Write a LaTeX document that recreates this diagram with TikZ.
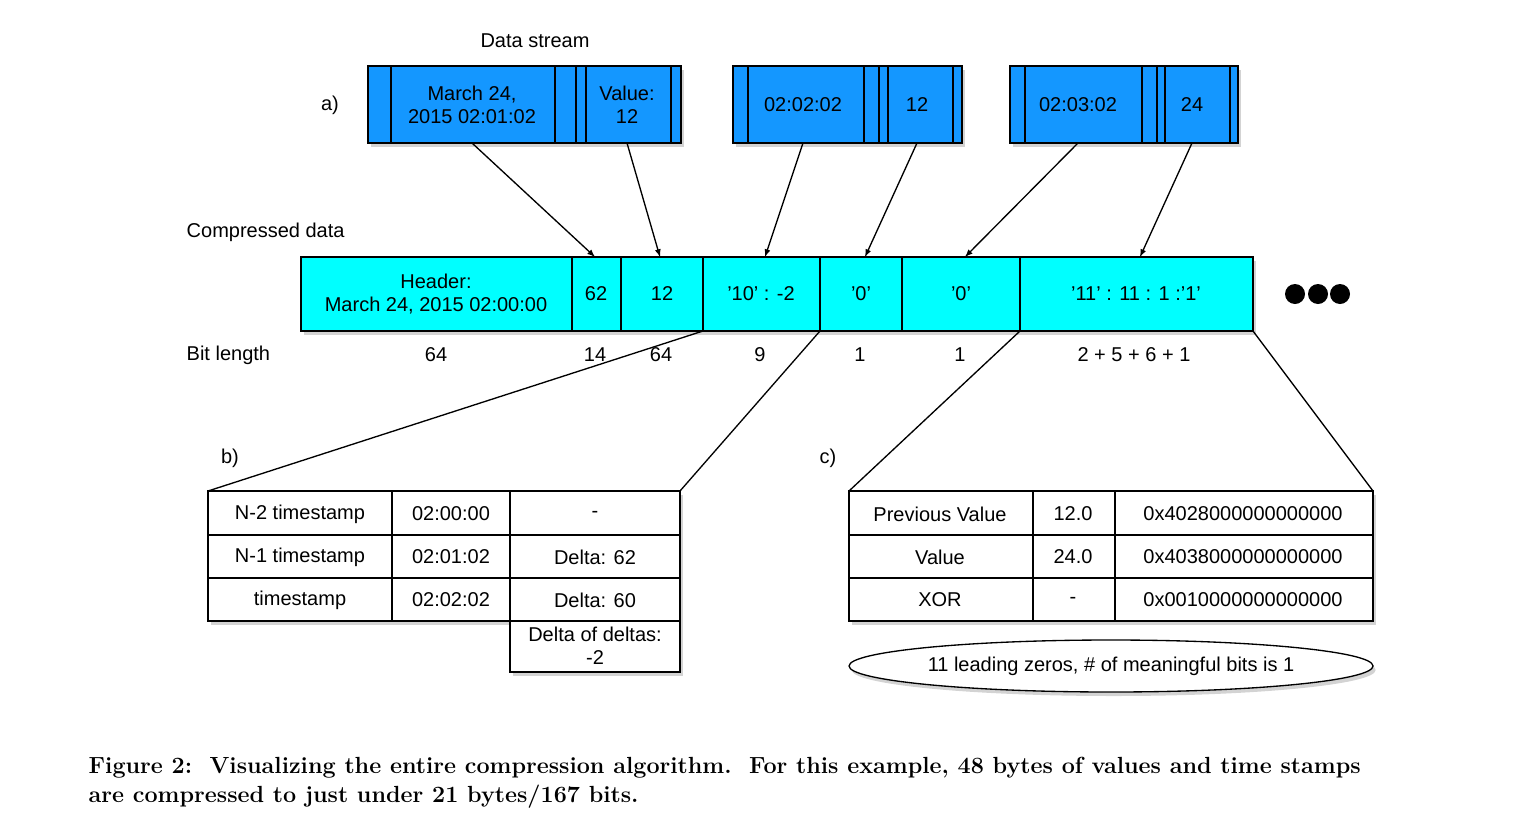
\documentclass[tikz,border=0pt]{standalone}
\usepackage{fontspec}
\setsansfont{Liberation Sans}
\usetikzlibrary{shadows,shapes.geometric}
\definecolor{blu}{HTML}{1497FF}
\definecolor{cy}{HTML}{00FFFF}
\begin{document}
\begin{tikzpicture}[x=0.75pt,y=-0.75pt,
  txt/.style={font=\sffamily\fontsize{15}{17}\selectfont,align=center},
  box/.style={draw,line width=1pt,drop shadow={opacity=0.35,shadow xshift=2pt,shadow yshift=-3pt}},
  arr/.style={-latex,line width=1pt},
  ln/.style={line width=1pt}]
\useasboundingbox (0,0) rectangle (1538,818);
% top boxes
\foreach \a/\b/\n in {368/681/A,733/962/B,1010/1238/C}{
  \path[box,fill=blu] (\a,66) rectangle (\b,143);}
\foreach \x in {391,555,576,586,671,748,864,879,888,953,1025,1142,1157,1165,1230}{
  \draw[line width=1pt] (\x,66) -- (\x,143);}
\node[txt] (t1) at (472,105) {March 24,\\2015 02:01:02};
\node[txt] (v1) at (627,105) {Value:\\12};
\node[txt] (t2) at (803,105) {02:02:02};
\node[txt] (v2) at (917,105) {12};
\node[txt] (t3) at (1078,105) {02:03:02};
\node[txt] (v3) at (1192,105) {24};
\coordinate (t1b) at (472,143); \coordinate (v1b) at (627,143);
\coordinate (t2b) at (803,143); \coordinate (v2b) at (917,143);
\coordinate (t3b) at (1078,143); \coordinate (v3b) at (1192,143);
\node[txt] (a) at (330,105) {a)};
\node[txt] (ds) at (535,41) {Data stream};
\node[txt,anchor=west] (cd) at (182,232) {Compressed data};
\node[txt,anchor=west] (bl) at (182,355) {Bit length};
% compressed row
\path[box,fill=cy] (301,257) rectangle (1253,331);
\foreach \x in {572,621,703,820,902,1020}{\draw[line width=1pt] (\x,257) -- (\x,331);}
\node[txt] (c1) at (436,294) {Header:\\March 24, 2015 02:00:00};
\node[txt] (c2) at (596,294) {62};
\node[txt] (c3) at (662,294) {12};
\node[txt] (c4) at (761,294) {'10' : -2};
\node[txt] (c5) at (861,294) {'0'};
\node[txt] (c6) at (961,294) {'0'};
\node[txt] (c7) at (1136,294) {'11' : 11 : 1 :'1'};
\foreach \x/\t in {436/64,595/14,661/64,760/9,860/1,960/1,1134/{2 + 5 + 6 + 1}}{
  \node[txt] at (\x,355) {\t};}
\foreach \x in {1295,1318,1340}{\fill (\x,294) circle (10);}
\coordinate (c2t) at (595,257); \coordinate (c3t) at (660,257);
\coordinate (c4t) at (765,257); \coordinate (c5t) at (865,257);
\coordinate (c6t) at (965,257); \coordinate (c7t) at (1140,257);
\draw[arr] (t1b) -- (c2t); \draw[arr] (v1b) -- (c3t);
\draw[arr] (t2b) -- (c4t); \draw[arr] (v2b) -- (c5t);
\draw[arr] (t3b) -- (c6t); \draw[arr] (v3b) -- (c7t);
% table b
\path[box,fill=white] (208,491) rectangle (680,621);
\path[box,fill=white] (510,621) rectangle (680,672);
\draw[ln] (208,491) rectangle (680,621);
\foreach \y in {535,578}{\draw[ln] (208,\y) -- (680,\y);}
\foreach \x in {392,510}{\draw[ln] (\x,491) -- (\x,621);}
\node[txt] at (300,514) {N-2 timestamp};
\node[txt] at (451,514) {02:00:00};
\node[txt] at (595,514) {-};
\node[txt] at (300,557) {N-1 timestamp};
\node[txt] at (451,557) {02:01:02};
\node[txt] at (595,557) {Delta: 62};
\node[txt] at (300,600) {timestamp};
\node[txt] at (451,600) {02:02:02};
\node[txt] at (595,600) {Delta: 60};
\node[txt] at (595,646) {Delta of deltas:\\-2};
\node[txt] at (230,458) {b)};
\draw[ln] (703,331) -- (208,491);
\draw[ln] (820,331) -- (680,491);
% table c
\path[box,fill=white] (849,491) rectangle (1373,621);
\draw[ln] (849,491) rectangle (1373,621);
\foreach \y in {535,578}{\draw[ln] (849,\y) -- (1373,\y);}
\foreach \x in {1033,1115}{\draw[ln] (\x,491) -- (\x,621);}
\node[txt] at (940,514) {Previous Value};
\node[txt] at (1073,514) {12.0};
\node[txt] at (1243,514) {0x4028000000000000};
\node[txt] at (940,557) {Value};
\node[txt] at (1073,557) {24.0};
\node[txt] at (1243,557) {0x4038000000000000};
\node[txt] at (940,600) {XOR};
\node[txt] at (1073,600) {-};
\node[txt] at (1243,600) {0x0010000000000000};
\node[txt] at (828,458) {c)};
\draw[ln] (1020,331) -- (849,491);
\draw[ln] (1253,331) -- (1373,491);
\node[box,fill=white,ellipse,minimum width=524*0.75pt,minimum height=52*0.75pt,inner sep=0pt,txt] (el) at (1111,666) {11 leading zeros, \# of meaningful bits is 1};
% caption
\node[anchor=west,font=\fontsize{17.5}{21}\selectfont\bfseries] at (84,768) {Figure 2:\ \ Visualizing the entire compression algorithm.\ \ For this example, 48 bytes of values and time stamps};
\node[anchor=west,font=\fontsize{17.5}{21}\selectfont\bfseries] at (84,797) {are compressed to just under 21 bytes/167 bits.};
\end{tikzpicture}
\end{document}
